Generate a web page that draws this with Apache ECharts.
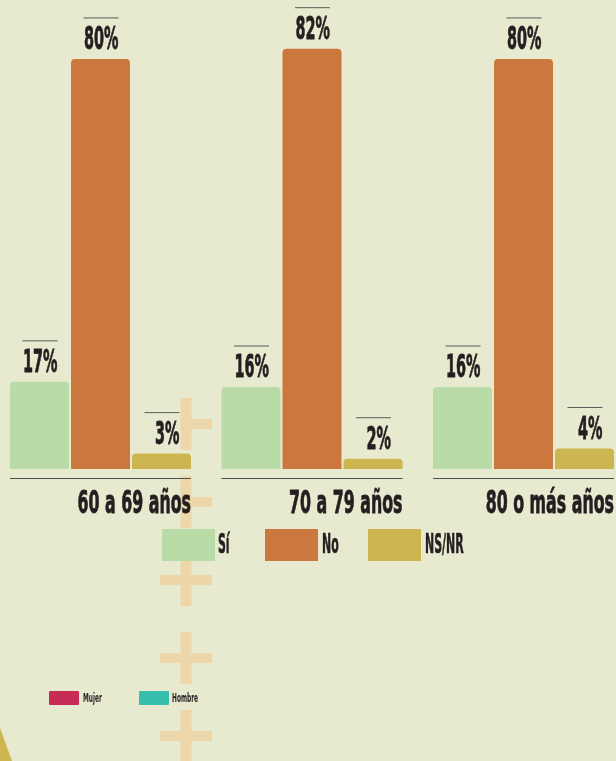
<!DOCTYPE html>
<html>
<head>
<meta charset="utf-8">
<script src="https://cdn.jsdelivr.net/npm/echarts@6/dist/echarts.min.js"></script>
<style>
html,body{margin:0;padding:0;background:#e8eacf;}
#chart{width:616px;height:761px;}
</style>
</head>
<body>
<div id="chart"></div>
<script>
// ---- data ----
const categories = ['60 a 69 años', '70 a 79 años', '80 o más años'];
const seriesNames = ['Sí', 'No', 'NS/NR'];
const siValues = [17, 16, 16];
const noValues = [80, 82, 80];
const nsnrValues = [3, 2, 4];
const extraLegend = ['Mujer', 'Hombre'];

// ---- styles ----
const FONT = '"DejaVu Sans Condensed", "Liberation Sans Narrow", sans-serif';
const colors = ['#b9dba8', '#cc773e', '#cdb54f'];
const extraColors = ['#c92b57', '#37bfae'];
const BAR_W = 59, BAR_STEP = 61;
const peach = '#eed6ab';
const INK = '#231f20';

const allValues = [siValues, noValues, nsnrValues];
const labelData = [];
allValues.forEach((arr, s) => arr.forEach((v, c) => labelData.push([c, v, s])));
const groupData = categories.map((c, i) => [i, 0]);

const chart = echarts.init(document.getElementById('chart'), null, {renderer: 'canvas'});

function cross(cx, top, full) {
  const els = [{type: 'rect', shape: {x: cx - 5.5, y: top, width: 11, height: 52}, style: {fill: peach}}];
  els.push({type: 'rect', shape: {x: full ? cx - 26 : cx - 5.5, y: top + 21, width: full ? 52 : 31.5, height: 10}, style: {fill: peach}});
  return els;
}
let graphics = [];
graphics = graphics.concat(cross(186, 398, false), cross(186, 476, false), cross(186, 554, true), cross(186, 632, true), cross(186, 710, true));
graphics.push({type: 'polygon', shape: {points: [[0, 728], [12, 761], [0, 761]]}, style: {fill: '#cdb54f'}});
// legend labels (condensed)
[[218, 0], [322, 1], [425, 2]].forEach(p => {
  graphics.push({type: 'text', x: p[0], y: 546, scaleX: 0.45, z: 10,
    style: {text: seriesNames[p[1]], font: 'bold 27px ' + FONT, fill: INK, stroke: INK, lineWidth: 0.6, verticalAlign: 'middle', align: 'left'}});
});
// secondary legend
[[49, 83], [139, 172]].forEach((p, i) => {
  graphics.push({type: 'rect', shape: {x: p[0], y: 691, width: 30, height: 14, r: 1}, style: {fill: extraColors[i]}});
  graphics.push({type: 'text', x: p[1], y: 699, scaleX: 0.5,
    style: {text: extraLegend[i], font: 'bold 13px ' + FONT, fill: INK, verticalAlign: 'middle', align: 'left'}});
});

const option = {
  backgroundColor: '#e8eacf',
  animation: false,
  graphic: {elements: graphics},
  legend: {
    data: seriesNames,
    left: 162, top: 529, padding: 0,
    itemWidth: 53, itemHeight: 32, itemGap: 50,
    icon: 'rect',
    formatter: () => '',
    textStyle: {fontSize: 1}
  },
  grid: {left: -5.25, width: 634.5, top: 0, height: 469, containLabel: false, outerBoundsMode: 'none'},
  xAxis: {
    type: 'category', data: categories,
    axisLine: {show: false}, axisTick: {show: false}, axisLabel: {show: false}, splitLine: {show: false}
  },
  yAxis: {
    type: 'value', min: 0, max: 91.5,
    axisLine: {show: false}, axisTick: {show: false}, axisLabel: {show: false}, splitLine: {show: false}
  },
  series: [
    ...seriesNames.map((n, i) => ({
      name: n, type: 'bar', data: allValues[i], barWidth: BAR_W, barGap: '3.4%',
      itemStyle: {color: colors[i], borderRadius: [4, 4, 0, 0]}, z: 3
    })),
    {
      type: 'custom', data: labelData, z: 5, silent: true,
      renderItem: function (params, api) {
        const c = api.value(0), v = api.value(1), s = api.value(2);
        const pt = api.coord([c, v]);
        const cx = pt[0] + (s - 1) * BAR_STEP;
        const top = pt[1];
        return {type: 'group', children: [
          {type: 'line', shape: {x1: cx - 17, y1: top - 41, x2: cx + 18, y2: top - 41}, style: {stroke: '#5a5a56', lineWidth: 1}},
          {type: 'text', x: cx + 18, y: top - 18, scaleX: 0.5,
            style: {text: v + '%', font: 'bold 32px ' + FONT, fill: INK, stroke: INK, lineWidth: 0.8, align: 'right', verticalAlign: 'middle'}}
        ]};
      }
    },
    {
      type: 'custom', data: groupData, z: 5, silent: true,
      renderItem: function (params, api) {
        const c = api.value(0);
        const pt = api.coord([c, 0]);
        const left = pt[0] - BAR_STEP - BAR_W / 2;
        const right = pt[0] + BAR_STEP + BAR_W / 2;
        return {type: 'group', children: [
          {type: 'line', shape: {x1: left, y1: pt[1] + 9.5, x2: right, y2: pt[1] + 9.5}, style: {stroke: '#4d4d4a', lineWidth: 1}},
          {type: 'text', x: right, y: pt[1] + 36, scaleX: 0.55,
            style: {text: categories[c], font: 'bold 32px ' + FONT, fill: INK, stroke: INK, lineWidth: 0.8, align: 'right', verticalAlign: 'middle'}}
        ]};
      }
    }
  ]
};
chart.setOption(option);
</script>
</body>
</html>
